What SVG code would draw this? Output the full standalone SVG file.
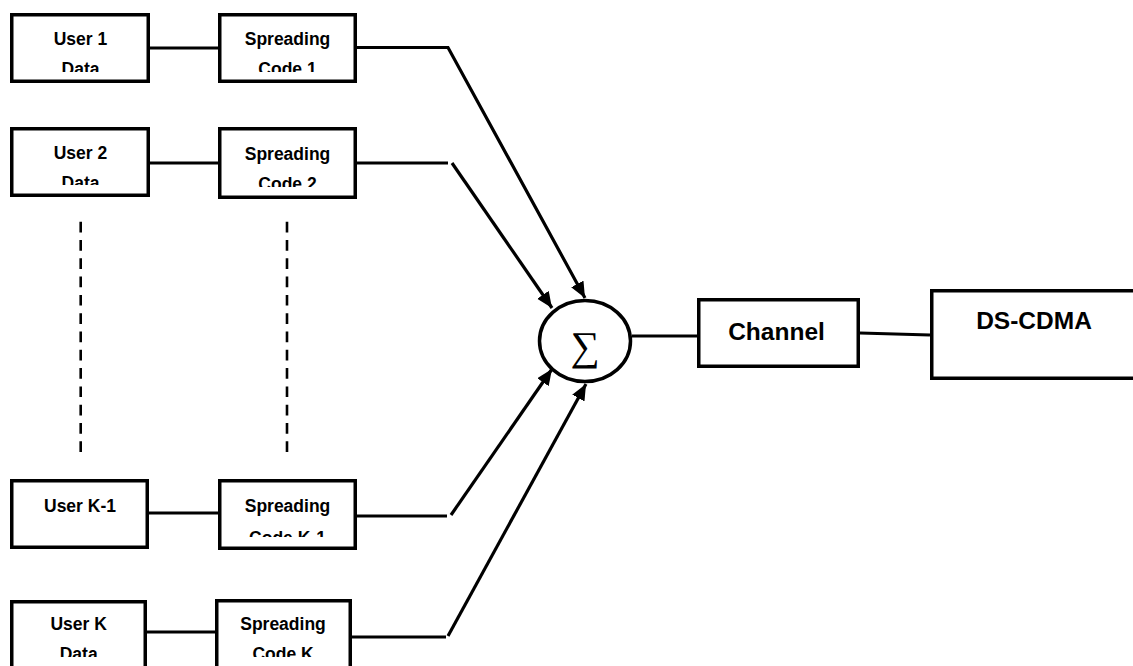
<svg xmlns="http://www.w3.org/2000/svg" width="1133" height="666" viewBox="0 0 1133 666">
<style>
.box{fill:#fff;stroke:#000;stroke-width:3.5}
.t{font-family:"Liberation Sans",Arial,sans-serif;font-weight:bold;font-size:17.5px;fill:#000;text-anchor:middle}
.tb{font-family:"Liberation Sans",Arial,sans-serif;font-weight:bold;font-size:24.5px;fill:#000;text-anchor:middle}
.ln{fill:none;stroke:#000;stroke-width:3.2}
.ar{fill:none;stroke:#000;stroke-width:3.2;marker-end:url(#ah)}
.dash{stroke:#000;stroke-width:2.6;stroke-dasharray:10.7 7.6}
</style>
<defs>
<marker id="ah" markerUnits="userSpaceOnUse" markerWidth="17" markerHeight="15" refX="16" refY="7" orient="auto">
<path d="M0,0 L16,7 L0,14 z" fill="#000"/>
</marker>
<clipPath id="c1"><rect x="0" y="0" width="400" height="72"/></clipPath>
<clipPath id="c2u"><rect x="0" y="100" width="400" height="85"/></clipPath>
<clipPath id="c2s"><rect x="0" y="100" width="400" height="87"/></clipPath>
<clipPath id="c3"><rect x="0" y="460" width="400" height="77"/></clipPath>
<clipPath id="c4"><rect x="0" y="580" width="400" height="77"/></clipPath>
</defs>
<rect width="1133" height="666" fill="#fff"/>
<g id="connectors">
<line class="ln" x1="150" y1="48" x2="218" y2="48"/>
<line class="ln" x1="150" y1="163" x2="218" y2="163"/>
<line class="ln" x1="149" y1="513" x2="218" y2="513"/>
<line class="ln" x1="147" y1="632" x2="215" y2="632"/>
<polyline class="ar" points="357,47.5 448,47.5 585,298"/>
<line class="ln" x1="357" y1="163" x2="448" y2="163"/>
<line class="ar" x1="452" y1="163" x2="552" y2="308"/>
<line class="ln" x1="357" y1="516" x2="447" y2="516"/>
<line class="ar" x1="451" y1="515" x2="552" y2="369"/>
<line class="ln" x1="352" y1="637" x2="446" y2="637"/>
<line class="ar" x1="448" y1="636" x2="586" y2="384"/>
<line class="ln" x1="632" y1="336" x2="697" y2="336"/>
<line class="ln" x1="860" y1="333" x2="930" y2="335"/>
<line class="dash" x1="80.7" y1="221.7" x2="80.7" y2="452.7"/>
<line class="dash" x1="287" y1="221.7" x2="287" y2="452.7"/>
</g>
<g id="user1">
<rect class="box" x="11.75" y="14.75" width="136.5" height="66.5"/>
<g clip-path="url(#c1)"><text class="t" x="80.5" y="45">User 1</text><text class="t" x="80.5" y="75">Data</text></g>
</g>
<g id="spread1">
<rect class="box" x="219.75" y="14.75" width="135.5" height="66.5"/>
<g clip-path="url(#c1)"><text class="t" x="287.5" y="45">Spreading</text><text class="t" x="287.5" y="75">Code 1</text></g>
</g>
<g id="user2">
<rect class="box" x="11.75" y="128.75" width="136.5" height="66.5"/>
<g clip-path="url(#c2u)"><text class="t" x="80.5" y="159">User 2</text><text class="t" x="80.5" y="189">Data</text></g>
</g>
<g id="spread2">
<rect class="box" x="219.75" y="128.75" width="135.5" height="68.5"/>
<g clip-path="url(#c2s)"><text class="t" x="287.5" y="160">Spreading</text><text class="t" x="287.5" y="190">Code 2</text></g>
</g>
<g id="userK1">
<rect class="box" x="11.75" y="480.75" width="135.5" height="66.5"/>
<text class="t" x="80" y="512">User K-1</text>
</g>
<g id="spreadK1">
<rect class="box" x="219.75" y="480.75" width="135.5" height="67.5"/>
<g clip-path="url(#c3)"><text class="t" x="287.5" y="512">Spreading</text><text class="t" x="287.5" y="544">Code K-1</text></g>
</g>
<g id="userK">
<rect class="box" x="11.75" y="601.75" width="133.5" height="80"/>
<g clip-path="url(#c4)"><text class="t" x="78.7" y="630">User K</text><text class="t" x="78.7" y="660">Data</text></g>
</g>
<g id="spreadK">
<rect class="box" x="216.75" y="600.75" width="133.5" height="80"/>
<g clip-path="url(#c4)"><text class="t" x="283" y="630">Spreading</text><text class="t" x="283" y="660">Code K</text></g>
</g>
<g id="sum">
<ellipse cx="585" cy="341" rx="45.5" ry="40.5" fill="#fff" stroke="#000" stroke-width="3.5"/>
<text x="585" y="360" font-family="'Liberation Serif','DejaVu Serif',serif" font-size="41" text-anchor="middle">∑</text>
</g>
<g id="channel">
<rect class="box" x="698.75" y="299.75" width="159.5" height="66.5"/>
<text class="tb" x="776.5" y="340">Channel</text>
</g>
<g id="dscdma">
<rect class="box" x="931.75" y="290.75" width="230" height="87.5"/>
<text class="tb" x="1034" y="329">DS-CDMA</text>
</g>
</svg>
